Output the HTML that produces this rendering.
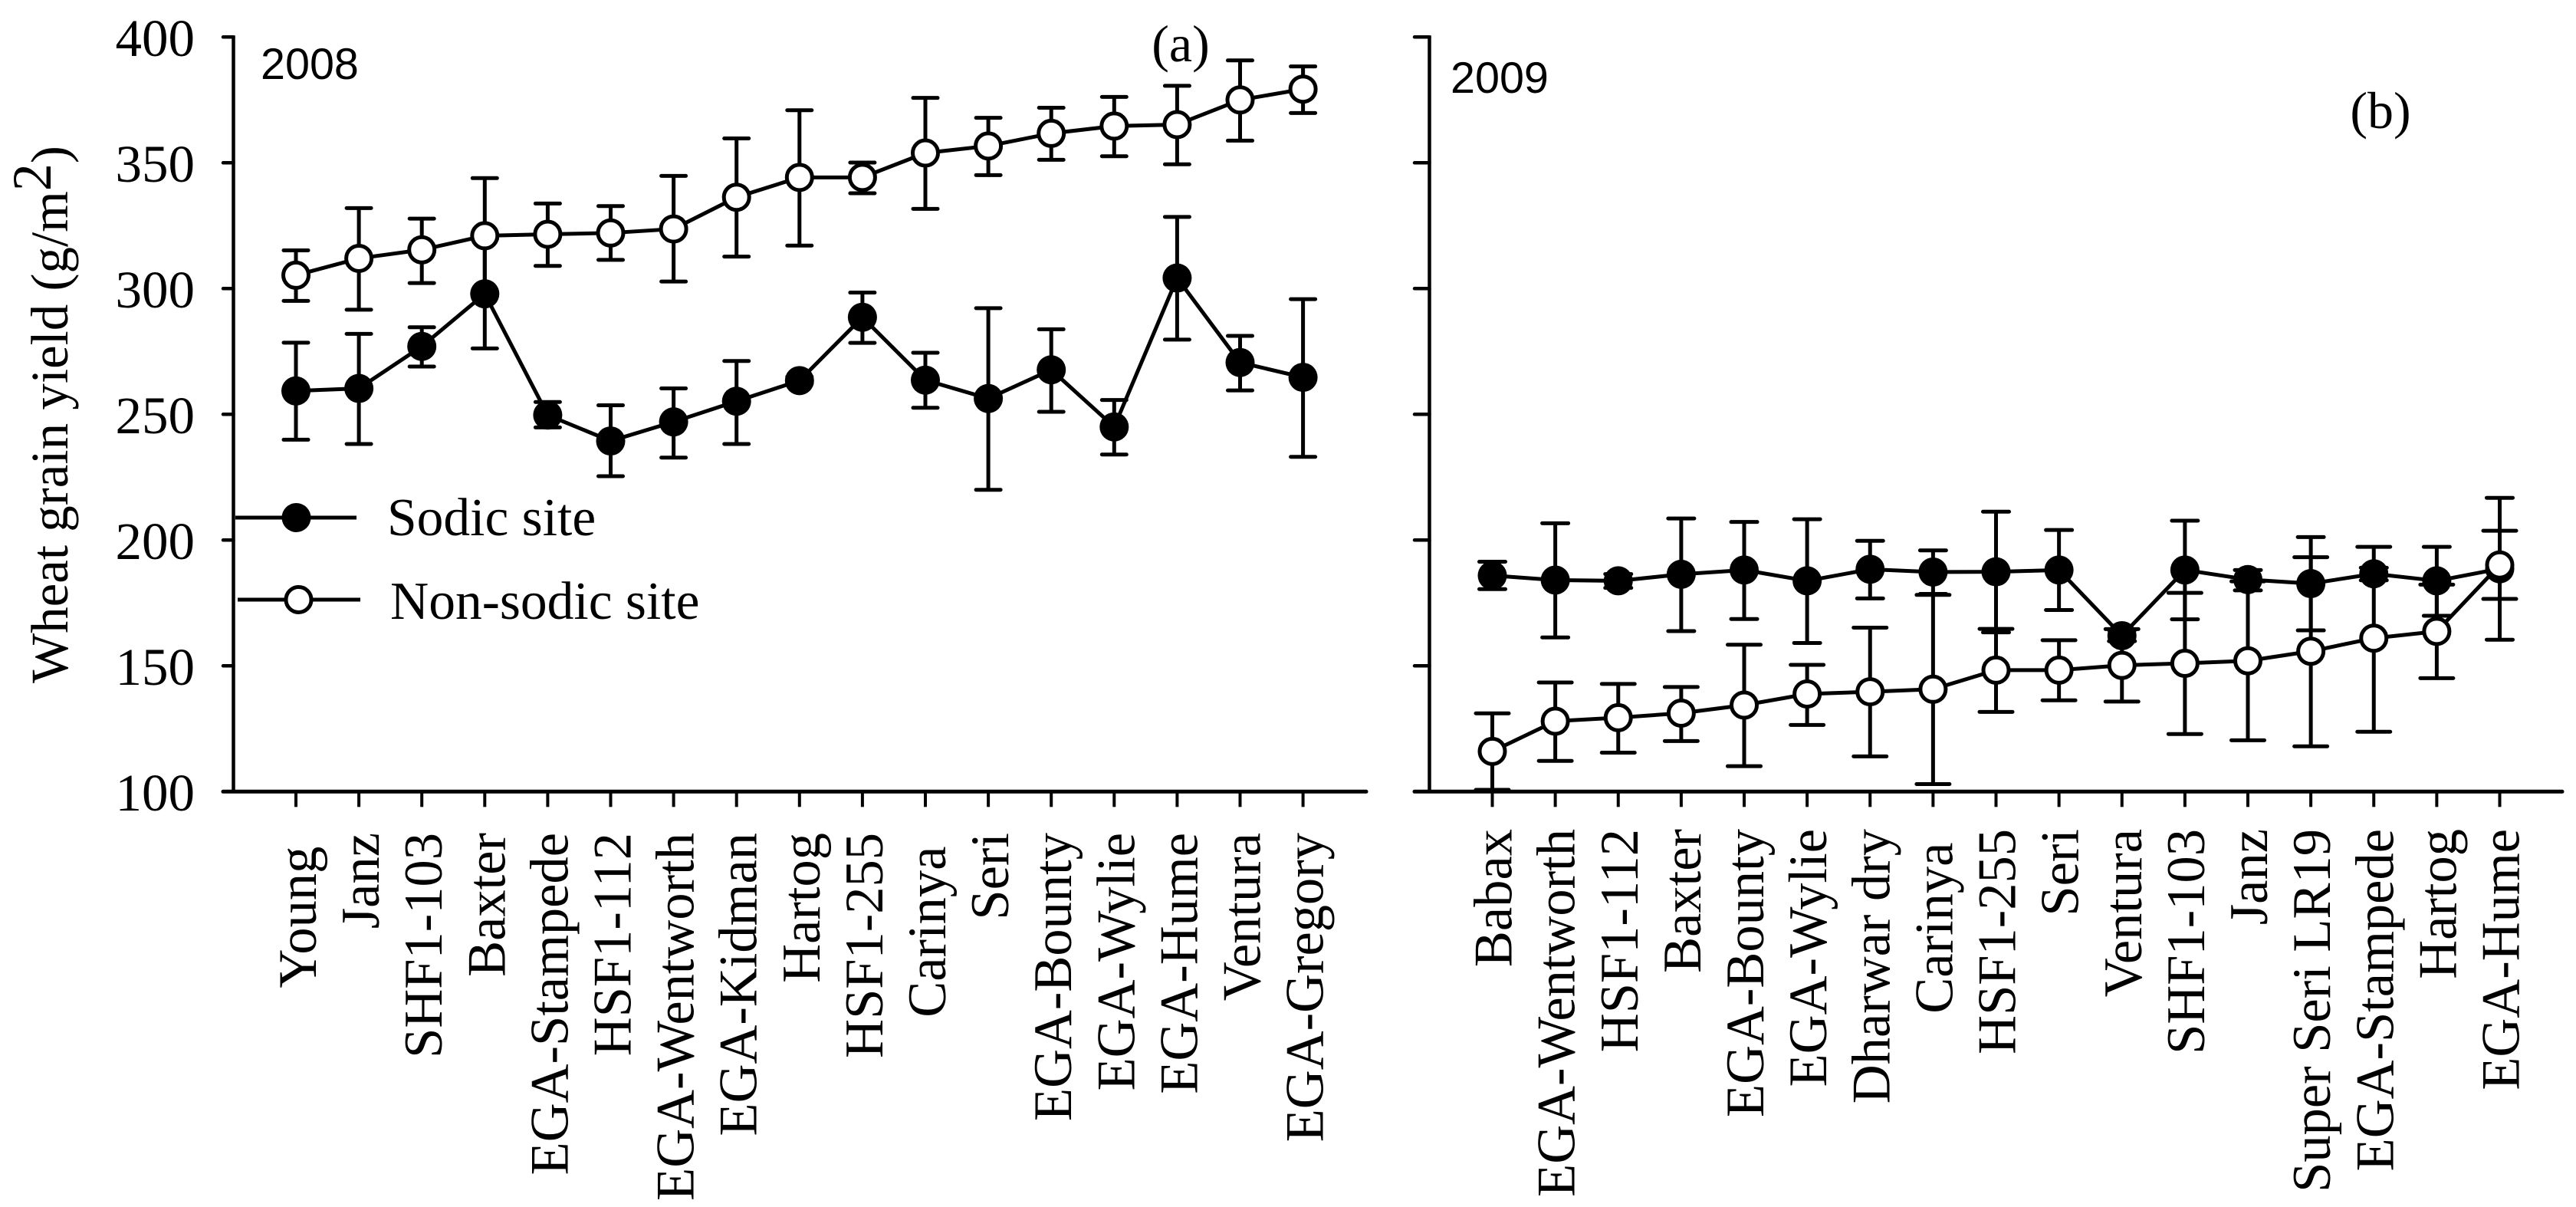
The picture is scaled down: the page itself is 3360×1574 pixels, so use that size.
<!DOCTYPE html>
<html lang="en">
<head>
<meta charset="utf-8">
<title>Wheat grain yield at sodic and non-sodic sites</title>
<style>
html,body{margin:0;padding:0;background:#fff;width:3360px;height:1574px;overflow:hidden}
svg{display:block}
text{font-family:"Liberation Serif",serif;fill:#000;white-space:pre}
.sans{font-family:"Liberation Sans",sans-serif}
</style>
</head>
<body>
<svg id="chart" xmlns="http://www.w3.org/2000/svg" width="3360" height="1574" viewBox="0 0 3360 1574">
  <rect width="3360" height="1574" fill="#fff"/>
  <text transform="translate(88 891) rotate(-90)" font-size="69">Wheat grain yield (g/m<tspan dy="-22" font-size="72">2</tspan><tspan dy="22">)</tspan></text>
  <text class="sans" x="340" y="103" font-size="57.5">2008</text>
  <text x="1540" y="80" font-size="68" text-anchor="middle">(a)</text>
  <text class="sans" x="1892" y="121" font-size="57.5">2009</text>
  <text x="3105" y="167" font-size="68" text-anchor="middle">(b)</text>
  <g id="legend">
    <g>
      <line x1="307" y1="675" x2="465" y2="675" stroke="#000" stroke-width="5"/>
      <circle cx="386.5" cy="675" r="19" fill="#000"/>
      <text x="505" y="698" font-size="69.5">Sodic site</text>
    </g>
    <g>
      <line x1="310" y1="782" x2="470" y2="782" stroke="#000" stroke-width="5"/>
      <circle cx="389.5" cy="782" r="16.5" fill="#fff" stroke="#000" stroke-width="5"/>
      <text x="509" y="807" font-size="69.5">Non-sodic site</text>
    </g>
  </g>
</svg>
<script>
const yTicks = [100, 150, 200, 250, 300, 350, 400];

const categories2008 = ["Young ", "Janz", "SHF1-103", "Baxter", "EGA-Stampede", "HSF1-112", "EGA-Wentworth", "EGA-Kidman", "Hartog", "HSF1-255", "Carinya ", "Seri", "EGA-Bounty", "EGA-Wylie", "EGA-Hume", "Ventura", "EGA-Gregory"];
const sodic2008 = [259.3, 260.3, 277, 297.9, 249.7, 239.4, 247, 255.2, 263.4, 288.6, 263.6, 256.3, 267.7, 245, 304.2, 270.6, 264.7];
const sodic2008Upper = [278.5, 282, 284.6, 319.6, 254.9, 253.6, 260.3, 271.2, 265, 298.4, 274.5, 292.2, 283.8, 255.7, 328.5, 281.2, 295.8];
const sodic2008Lower = [239.9, 238.2, 269, 276.2, 244.8, 225.4, 232.8, 238.2, 262, 278.4, 252.6, 220, 251, 234, 279.7, 259.5, 233.1];
const nonSodic2008 = [305.3, 312, 315.4, 321, 321.6, 322.1, 323.7, 336.3, 344.2, 344.2, 353.9, 356.7, 361.7, 364.6, 365.2, 375, 379.3];
const nonSodic2008Upper = [315.2, 332, 327.8, 343.9, 333.8, 332.8, 344.8, 359.7, 370.9, 350.1, 375.8, 367.9, 371.9, 376.2, 380.6, 390.7, 388.3];
const nonSodic2008Lower = [295.1, 291.6, 302.2, 298, 309, 311.4, 302.8, 312.7, 317.1, 337.9, 331.7, 345.1, 351.2, 352.6, 349.4, 358.8, 369.8];

const categories2009 = ["Babax", "EGA-Wentworth", "HSF1-112", "Baxter", "EGA-Bounty", "EGA-Wylie", "Dharwar dry", "Carinya ", "HSF1-255", "Seri", "Ventura", "SHF1-103", "Janz", "Super Seri LR19", "EGA-Stampede", "Hartog", "EGA-Hume"];
const sodic2009 = [185.9, 184.1, 183.8, 186.4, 188.1, 183.8, 188.4, 187.3, 187.4, 188.1, 162, 188.1, 184.3, 182.7, 186.6, 183.8, 188.6];
const sodic2009Upper = [191.4, 206.7, 186.5, 208.6, 207.2, 208.3, 199.7, 195.9, 211.3, 204, 164.2, 207.7, 188.1, 201.2, 189, 197.3, 216.8];
const sodic2009Lower = [180.5, 161.3, 181, 163.8, 168.6, 159.1, 176.8, 178.6, 163.3, 172.2, 159.8, 168.5, 180, 164.1, 184, 169.9, 160.4];
const nonSodic2009 = [116, 128, 129.4, 131.2, 134.4, 138.8, 139.7, 140.7, 148.3, 148.3, 150.2, 151, 152, 155.8, 161, 163.7, 190.1];
const nonSodic2009Upper = [131.1, 143.4, 142.8, 141.6, 158.4, 150.4, 165.2, 178.2, 164.7, 160.2, 164.6, 179, 183.6, 193.2, 197.3, 182.3, 203.7];
const nonSodic2009Lower = [100.7, 112.2, 115.5, 120.1, 110.1, 126.5, 114, 103, 131.7, 136.3, 135.8, 122.9, 120.4, 118, 123.8, 145.1, 176.6];

const SVG_NS = 'http://www.w3.org/2000/svg';
const root = document.getElementById('chart');
const legendNode = document.getElementById('legend');

const yScale = v => 1032.3 - (v - 100) * 3.28;

function make(tag, attrs, parent) {
  const el = document.createElementNS(SVG_NS, tag);
  for (const k in attrs) el.setAttribute(k, attrs[k]);
  parent.appendChild(el);
  return el;
}

function drawSeries(parent, name, xScale, values, upper, lower, capWidth, filled) {
  const g = make('g', {}, parent);
  
  
  values.forEach((v, i) => {
    const x = xScale(i);
    const bar = make('path', {
      d: `M${x - capWidth / 2} ${yScale(upper[i])}H${x + capWidth / 2}M${x} ${yScale(upper[i])}V${yScale(lower[i])}M${x - capWidth / 2} ${yScale(lower[i])}H${x + capWidth / 2}`,
      fill: 'none', stroke: '#000', 'stroke-width': 5, 'stroke-linecap': 'round'
    }, g);
    
    
  });
  const line = make('polyline', {
    points: values.map((v, i) => `${xScale(i)},${yScale(v)}`).join(' '),
    fill: 'none', stroke: '#000', 'stroke-width': 5
  }, g);
  
  
  values.forEach((v, i) => {
    const dot = make('circle', filled
      ? { cx: xScale(i), cy: yScale(v), r: 19, fill: '#000' }
      : { cx: xScale(i), cy: yScale(v), r: 16.5, fill: '#fff', stroke: '#000', 'stroke-width': 5 }, g);
    
    
  });
}

function drawPanel(cfg) {
  const xScale = i => cfg.firstTick + i * cfg.step;
  const g = make('g', {}, root);
  
  

  const yAxis = make('line', { x1: cfg.axisX, x2: cfg.axisX, y1: yScale(400) - 2, y2: yScale(100), stroke: '#000', 'stroke-width': 4.5 }, g);
  
  
  const xAxis = make('line', { x1: cfg.axisStart, x2: cfg.axisEnd, y1: yScale(100), y2: yScale(100), stroke: '#000', 'stroke-width': 5, 'stroke-linecap': 'round' }, g);
  
  

  yTicks.forEach(t => {
    const tick = make('line', { x1: cfg.axisStart, x2: cfg.axisX, y1: yScale(t), y2: yScale(t), stroke: '#000', 'stroke-width': 4.5, 'stroke-linecap': 'round' }, g);
    
    
    if (cfg.showYLabels) {
      const lab = make('text', { x: 254, y: yScale(t) + 24.5, 'font-size': 69, 'text-anchor': 'end' }, g);
      lab.textContent = String(t);
      
      
    }
  });

  cfg.categories.forEach((c, i) => {
    const x = xScale(i);
    const tick = make('line', { x1: x, x2: x, y1: yScale(100), y2: yScale(100) + 20, stroke: '#000', 'stroke-width': 4 }, g);
    
    
    const lab = make('text', { transform: `translate(${x + cfg.labelDx} ${cfg.labelTop}) rotate(-90)`, 'font-size': 70.5, 'text-anchor': 'end' }, g);
    lab.textContent = c;
    
    
  });

  drawSeries(g, 'sodic-series', xScale, cfg.sodic, cfg.sodicUpper, cfg.sodicLower, cfg.capSodic, true);
  drawSeries(g, 'non-sodic-series', xScale, cfg.nonSodic, cfg.nonSodicUpper, cfg.nonSodicLower, cfg.capNonSodic, false);
}

drawPanel({
  name: 'panel-2008', axisX: 304.5, axisStart: 291, axisEnd: 1782, firstTick: 386, step: 82.1,
  showYLabels: true, labelDx: 26, labelTop: 1086, capSodic: 32, capNonSodic: 32,
  categories: categories2008,
  sodic: sodic2008, sodicUpper: sodic2008Upper, sodicLower: sodic2008Lower,
  nonSodic: nonSodic2008, nonSodicUpper: nonSodic2008Upper, nonSodicLower: nonSodic2008Lower
});
drawPanel({
  name: 'panel-2009', axisX: 1864.5, axisStart: 1845, axisEnd: 3342, firstTick: 1946.5, step: 82.125,
  showYLabels: false, labelDx: 25, labelTop: 1081, capSodic: 34, capNonSodic: 43,
  categories: categories2009,
  sodic: sodic2009, sodicUpper: sodic2009Upper, sodicLower: sodic2009Lower,
  nonSodic: nonSodic2009, nonSodicUpper: nonSodic2009Upper, nonSodicLower: nonSodic2009Lower
});
root.appendChild(legendNode);
</script>
</body>
</html>
